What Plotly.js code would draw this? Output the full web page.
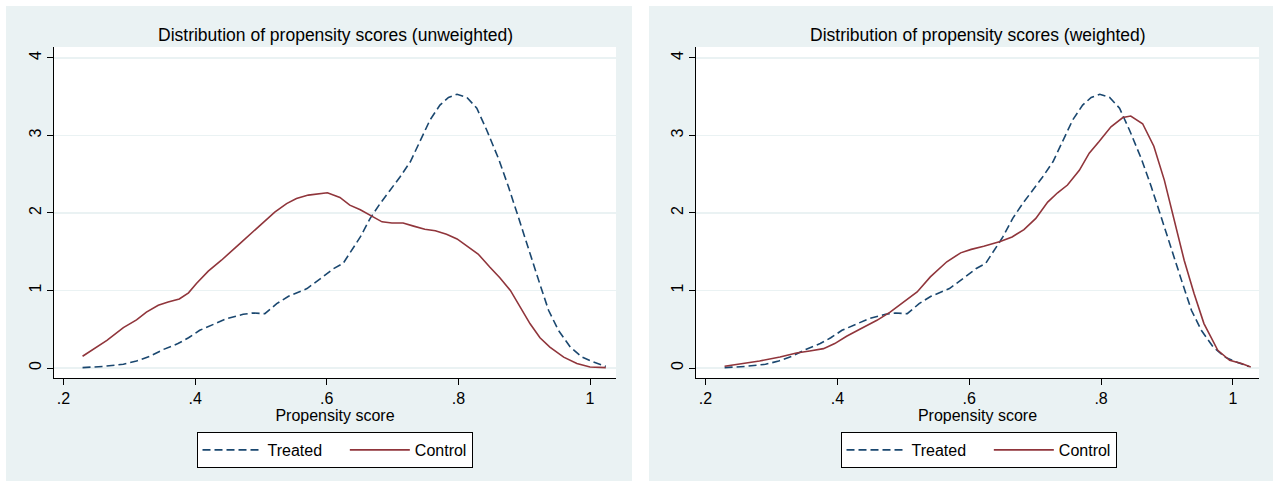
<!DOCTYPE html>
<html><head><meta charset="utf-8">
<script src="https://cdn.plot.ly/plotly-3.0.1.min.js"></script>
<style>html,body{margin:0;padding:0;background:#fff}#chart{width:1273px;height:482px}</style>
</head><body><div id="chart"></div>
<script>
// Treated (same kernel density in both panels)
const psTreated = [0.229,0.26,0.291,0.311,0.331,0.352,0.374,0.390,0.407,0.428,0.448,0.473,0.488,0.506,0.524,0.542,0.570,0.590,0.610,0.625,0.635,0.651,0.666,0.681,0.696,0.711,0.727,0.742,0.757,0.772,0.785,0.798,0.813,0.828,0.843,0.861,0.876,0.891,0.906,0.922,0.937,0.952,0.970,0.988,1.005,1.024];
const densTreated = [0.005,0.02,0.048,0.09,0.15,0.24,0.315,0.39,0.486,0.564,0.637,0.693,0.71,0.70,0.83,0.925,1.024,1.15,1.28,1.35,1.48,1.69,1.93,2.12,2.29,2.46,2.66,2.92,3.20,3.39,3.49,3.53,3.49,3.35,3.07,2.70,2.34,1.95,1.54,1.13,0.745,0.486,0.27,0.14,0.077,0.02];
// Control, unweighted
const psControlUnw = [0.229,0.245,0.266,0.291,0.311,0.326,0.344,0.359,0.376,0.390,0.402,0.42,0.44,0.468,0.488,0.504,0.521,0.539,0.554,0.572,0.587,0.601,0.620,0.635,0.651,0.666,0.684,0.699,0.716,0.732,0.749,0.765,0.782,0.798,0.813,0.830,0.848,0.863,0.879,0.894,0.909,0.924,0.939,0.96,0.98,1.0,1.024];
const densControlUnw = [0.151,0.237,0.357,0.52,0.62,0.72,0.81,0.85,0.89,0.97,1.09,1.25,1.39,1.605,1.755,1.885,2.01,2.12,2.185,2.23,2.25,2.26,2.20,2.10,2.04,1.97,1.885,1.87,1.87,1.83,1.79,1.77,1.725,1.665,1.57,1.47,1.30,1.165,1.0,0.79,0.57,0.39,0.27,0.14,0.057,0.013,0.005];
// Control, weighted
const psControlW = [0.229,0.282,0.313,0.338,0.358,0.379,0.396,0.414,0.434,0.46,0.48,0.50,0.521,0.541,0.566,0.587,0.603,0.622,0.647,0.665,0.683,0.701,0.719,0.734,0.749,0.767,0.782,0.797,0.815,0.833,0.845,0.863,0.880,0.896,0.911,0.926,0.941,0.956,0.977,0.995,1.013,1.027];
const densControlW = [0.022,0.09,0.142,0.194,0.22,0.25,0.315,0.41,0.50,0.615,0.72,0.85,0.98,1.175,1.37,1.485,1.53,1.57,1.63,1.69,1.785,1.93,2.14,2.26,2.36,2.55,2.77,2.92,3.11,3.23,3.25,3.15,2.86,2.42,1.885,1.39,0.96,0.573,0.228,0.10,0.057,0.013];

const xTickVals = [0.2,0.4,0.6,0.8,1];
const xTickText = ['.2','.4','.6','.8','1'];
const yTickVals = [0,1,2,3,4];
const yTickText = ['0','1','2','3','4'];
const panelTitles = ['Distribution of propensity scores (unweighted)','Distribution of propensity scores (weighted)'];
const seriesNames = ['Treated','Control'];
const xTitle = 'Propensity score';

const W = 1273, H = 482;
const FONT = 'Liberation Sans, Arial, sans-serif';
const BLUISH = '#eaf2f3';
const NAVY = '#1a476f', MAROON = '#90353b';
const px = v => v / W, py = v => 1 - v / H;
const PAD = '\u00a0\u00a0\u00a0\u00a0'; // spacing after first legend entry

const dom1 = [px(54), px(616)], dom2 = [px(696), px(1259)];
const ydom = [py(378), py(47)];

function trTrace(x, y, xa, ya, leg, show) {
  return {x: x, y: y, xaxis: xa, yaxis: ya, type: 'scatter', mode: 'lines', name: seriesNames[0] + PAD,
    line: {color: NAVY, width: 1.6, dash: '8px,4px'}, legend: leg, showlegend: show, hoverinfo: 'skip'};
}
function ctTrace(x, y, xa, ya, leg) {
  return {x: x, y: y, xaxis: xa, yaxis: ya, type: 'scatter', mode: 'lines', name: seriesNames[1],
    line: {color: MAROON, width: 1.6}, legend: leg, hoverinfo: 'skip'};
}
const data = [
  trTrace(psTreated, densTreated, 'x', 'y', 'legend', true),
  ctTrace(psControlUnw, densControlUnw, 'x', 'y', 'legend'),
  trTrace(psTreated, densTreated, 'x2', 'y2', 'legend2', true),
  ctTrace(psControlW, densControlW, 'x2', 'y2', 'legend2')
];

function xaxisDef(dom, anchor) {
  return {domain: dom, anchor: anchor, range: [0.1856, 1.0395], tickvals: xTickVals, ticktext: xTickText,
    ticks: 'outside', ticklen: 6, tickcolor: '#000', tickwidth: 1, showline: true, linecolor: '#000', linewidth: 1,
    showgrid: false, zeroline: false, tickfont: {family: FONT, size: 16, color: '#000'},
    title: {text: xTitle, font: {family: FONT, size: 16, color: '#000'}, standoff: 0}, fixedrange: true};
}
function yaxisDef(anchor) {
  return {domain: ydom, anchor: anchor, range: [-0.129, 4.14], tickvals: yTickVals, ticktext: yTickText, tickangle: -90,
    ticks: 'outside', ticklen: 6, tickcolor: '#000', tickwidth: 1, showline: true, linecolor: '#000', linewidth: 1,
    showgrid: true, gridcolor: BLUISH, gridwidth: 1.5, zeroline: false,
    tickfont: {family: FONT, size: 16, color: '#000'}, fixedrange: true};
}
function legendDef(cx) {
  return {orientation: 'h', x: cx, xanchor: 'center', y: py(432), yanchor: 'top',
    bgcolor: '#fff', bordercolor: '#000', borderwidth: 1, itemwidth: 60,
    font: {family: FONT, size: 16, color: '#000'}, traceorder: 'normal'};
}

const layout = {
  width: W, height: H, margin: {l: 0, r: 0, t: 0, b: 0},
  paper_bgcolor: '#fff', plot_bgcolor: '#fff', font: {family: FONT, color: '#000'},
  xaxis: xaxisDef(dom1, 'y'), yaxis: yaxisDef('x'),
  xaxis2: xaxisDef(dom2, 'y2'), yaxis2: yaxisDef('x2'),
  legend: legendDef(px(334.5)), legend2: legendDef(px(978.5)),
  shapes: [
    {type: 'rect', xref: 'paper', yref: 'paper', x0: px(6), x1: px(632), y0: py(481), y1: py(6), fillcolor: BLUISH, line: {width: 0}, layer: 'below'},
    {type: 'rect', xref: 'paper', yref: 'paper', x0: px(649), x1: 1, y0: py(481), y1: py(6), fillcolor: BLUISH, line: {width: 0}, layer: 'below'},
    {type: 'rect', xref: 'x domain', yref: 'y domain', x0: 0, x1: 1, y0: 0, y1: 1, fillcolor: '#fff', line: {width: 0}, layer: 'below'},
    {type: 'rect', xref: 'x2 domain', yref: 'y2 domain', x0: 0, x1: 1, y0: 0, y1: 1, fillcolor: '#fff', line: {width: 0}, layer: 'below'}
  ],
  annotations: [
    {text: panelTitles[0], xref: 'paper', yref: 'paper', x: px(335), y: py(35), xanchor: 'center', yanchor: 'middle', showarrow: false, font: {family: FONT, size: 17.5, color: '#000'}},
    {text: panelTitles[1], xref: 'paper', yref: 'paper', x: px(977.5), y: py(35), xanchor: 'center', yanchor: 'middle', showarrow: false, font: {family: FONT, size: 17.5, color: '#000'}}
  ]
};
Plotly.newPlot('chart', data, layout, {displayModeBar: false, staticPlot: true});
</script>
</body></html>
